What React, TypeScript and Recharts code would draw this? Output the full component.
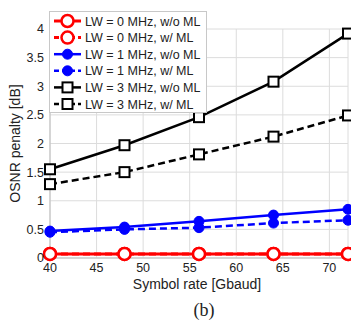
import React from "react"
import { LineChart, Line, XAxis, YAxis, CartesianGrid } from "recharts"

// symbol rates [Gbaud]
const symbolRates = [40, 48, 56, 64, 72]

// OSNR penalty [dB] per linewidth, with and without ML
const lw0NoMl = [0.07, 0.07, 0.07, 0.07, 0.07]
const lw0Ml = [0.07, 0.07, 0.07, 0.07, 0.07]
const lw1NoMl = [0.47, 0.54, 0.64, 0.75, 0.85]
const lw1Ml = [0.45, 0.5, 0.53, 0.61, 0.66]
const lw3NoMl = [1.55, 1.97, 2.46, 3.08, 3.92]
const lw3Ml = [1.29, 1.5, 1.81, 2.12, 2.49]

const xTicks = [40, 45, 50, 55, 60, 65, 70]
const yTicks = [0, 0.5, 1, 1.5, 2, 2.5, 3, 3.5, 4]

const data = symbolRates.map((rate, i) => ({
  rate,
  lw0NoMl: lw0NoMl[i],
  lw0Ml: lw0Ml[i],
  lw1NoMl: lw1NoMl[i],
  lw1Ml: lw1Ml[i],
  lw3NoMl: lw3NoMl[i],
  lw3Ml: lw3Ml[i],
}))

type Marker = "circle" | "dot" | "square"

interface SeriesDef {
  key: string
  name: string
  color: string
  dashed: boolean
  marker: Marker
  width: number
}

const series: SeriesDef[] = [
  { key: "lw0NoMl", name: "LW = 0 MHz, w/o ML", color: "#ff0000", dashed: false, marker: "circle", width: 3 },
  { key: "lw0Ml", name: "LW = 0 MHz, w/ ML", color: "#ff0000", dashed: true, marker: "circle", width: 3 },
  { key: "lw1NoMl", name: "LW = 1 MHz, w/o ML", color: "#0000ff", dashed: false, marker: "dot", width: 2.5 },
  { key: "lw1Ml", name: "LW = 1 MHz, w/ ML", color: "#0000ff", dashed: true, marker: "dot", width: 2.5 },
  { key: "lw3NoMl", name: "LW = 3 MHz, w/o ML", color: "#000000", dashed: false, marker: "square", width: 2.5 },
  { key: "lw3Ml", name: "LW = 3 MHz, w/ ML", color: "#000000", dashed: true, marker: "square", width: 2.5 },
]

const font = "'Liberation Sans', Arial, sans-serif"

function drawMarker(marker: Marker, color: string, cx: number, cy: number, key?: string) {
  if (marker === "circle") {
    return <circle key={key} cx={cx} cy={cy} r={6} fill="#fff" stroke={color} strokeWidth={2.5} />
  }
  if (marker === "dot") {
    return <circle key={key} cx={cx} cy={cy} r={5} fill={color} stroke={color} strokeWidth={1} />
  }
  return <rect key={key} x={cx - 5} y={cy - 5} width={10} height={10} fill="#fff" stroke={color} strokeWidth={2} />
}

function LegendBox() {
  return (
    <div
      style={{
        position: "absolute",
        left: 49,
        top: 11,
        width: 158,
        height: 102,
        background: "#fff",
        border: "1px solid #c8c8c8",
        boxSizing: "border-box",
      }}
    >
      <svg width={156} height={100} style={{ display: "block" }}>
        {series.map((s, i) => {
          const y = 9 + i * 16.6
          return (
            <g key={s.key}>
              <line
                x1={4}
                x2={31}
                y1={y}
                y2={y}
                stroke={s.color}
                strokeWidth={s.width}
                strokeDasharray={s.dashed ? "5 3" : undefined}
              />
              {drawMarker(s.marker, s.color, 17.5, y)}
              <text x={35} y={y + 4.5} fontSize={12.5} fontFamily={font} fill="#222">
                {s.name}
              </text>
            </g>
          )
        })}
      </svg>
    </div>
  )
}

export default function App() {
  return (
    <div style={{ position: "absolute", left: 0, top: 0, width: 351, height: 321, background: "#fff" }}>
      <LineChart width={351} height={321} data={data} margin={{ top: 29, right: 3, bottom: 0, left: 0 }}>
        <CartesianGrid stroke="#dcdcdc" strokeWidth={1} />
        <XAxis
          dataKey="rate"
          type="number"
          domain={[40, 72]}
          ticks={xTicks}
          interval={0}
          height={63}
          tickSize={0}
          tickMargin={5}
          axisLine={{ stroke: "#bdbdbd" }}
          tick={{ fontSize: 12.5, fill: "#222", fontFamily: font }}
          label={{
            value: "Symbol rate [Gbaud]",
            position: "insideTop",
            offset: 21,
            dx: -2,
            style: { fontSize: 14, fill: "#222", fontFamily: font },
          }}
        />
        <YAxis
          type="number"
          domain={[0, 4]}
          ticks={yTicks}
          interval={0}
          width={50}
          tickSize={0}
          tickMargin={6}
          axisLine={{ stroke: "#bdbdbd" }}
          tick={{ fontSize: 12.5, fill: "#222", fontFamily: font }}
          label={{
            value: "OSNR penalty [dB]",
            angle: -90,
            position: "insideLeft",
            offset: 15,
            style: { textAnchor: "middle", fontSize: 14, fill: "#222", fontFamily: font },
          }}
        />
        {series.map((s) => (
          <Line
            key={s.key}
            dataKey={s.key}
            name={s.name}
            type="linear"
            stroke={s.color}
            strokeWidth={s.width}
            strokeDasharray={s.dashed ? "7 4" : undefined}
            isAnimationActive={false}
            dot={(p: any) => drawMarker(s.marker, s.color, p.cx, p.cy, `${s.key}-${p.index}`)}
            activeDot={false}
          />
        ))}
      </LineChart>
      <LegendBox />
      <div
        style={{
          position: "absolute",
          left: 174,
          top: 300,
          width: 60,
          textAlign: "center",
          fontFamily: "'Liberation Serif', 'Times New Roman', serif",
          fontSize: 18,
          lineHeight: "20px",
          color: "#222",
        }}
      >
        (b)
      </div>
    </div>
  )
}
